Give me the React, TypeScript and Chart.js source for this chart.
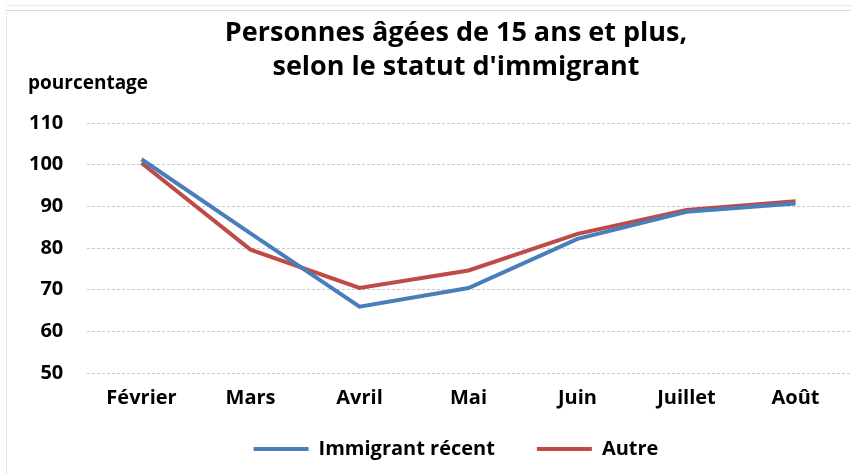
import React, { useEffect, useRef } from "react";
import { Chart, registerables } from "chart.js";

Chart.register(...registerables);

const categories = ["Février", "Mars", "Avril", "Mai", "Juin", "Juillet", "Août"];
const immigrantRecent = [101.3, 83.5, 65.9, 70.4, 82.2, 88.7, 90.7];
const autre = [100.4, 79.6, 70.4, 74.6, 83.4, 89.1, 91.2];
const yTicks = [50, 60, 70, 80, 90, 100, 110];
const titleLines = ["Personnes âgées de 15 ans et plus,", "selon le statut d'immigrant"];
const yUnit = "pourcentage";

const FONT = "'Open Sans', Lato, sans-serif";

export default function App() {
  const ref = useRef<HTMLCanvasElement | null>(null);

  useEffect(() => {
    const canvas = ref.current;
    if (!canvas) return;
    const chart = new Chart(canvas, {
      type: "line",
      data: {
        labels: categories,
        datasets: [
          {
            label: "Immigrant récent",
            data: immigrantRecent,
            borderColor: "#4A7EBB",
            backgroundColor: "#4A7EBB",
            borderWidth: 4,
            pointRadius: 0,
            tension: 0,
          },
          {
            label: "Autre",
            data: autre,
            borderColor: "#BE4B48",
            backgroundColor: "#BE4B48",
            borderWidth: 4,
            pointRadius: 0,
            tension: 0,
          },
        ],
      },
      options: {
        animation: false,
        responsive: false,
        maintainAspectRatio: false,
        layout: { padding: { left: 62, right: 1, top: 10, bottom: 4 } },
        plugins: {
          tooltip: { enabled: false },
          title: {
            display: true,
            text: titleLines,
            color: "#000",
            font: { family: FONT, size: 27, weight: "bold", lineHeight: "34px" },
            padding: { top: 6, bottom: 39 },
          },
          legend: {
            position: "bottom",
            labels: {
              color: "#000",
              font: { family: FONT, size: 20, weight: "bold" },
              boxWidth: 55,
              boxHeight: 4,
              padding: 42,
              generateLabels: (c: any) =>
                c.data.datasets.map((ds: any, i: number) => ({
                  text: ds.label,
                  fillStyle: ds.borderColor,
                  strokeStyle: ds.borderColor,
                  lineWidth: 0,
                  hidden: false,
                  datasetIndex: i,
                  fontColor: "#000",
                })),
            },
          },
        },
        scales: {
          x: {
            offset: true,
            grid: { display: false, drawTicks: false },
            border: { display: false },
            ticks: {
              color: "#000",
              font: { family: FONT, size: 20, weight: "bold" },
              padding: -37,
              maxRotation: 0,
              mirror: true,
            },
            afterFit: (s: any) => {
              s.height = 24;
            },
          },
          y: {
            min: 50,
            max: 110,
            afterBuildTicks: (s: any) => {
              s.ticks = yTicks.map((v) => ({ value: v }));
            },
            afterFit: (s: any) => {
              s.width = 25;
            },
            grid: {
              color: "#C9C9C9",
              lineWidth: 1,
              drawTicks: false,
            },
            border: { display: false, dash: [3, 2] },
            ticks: {
              color: "#000",
              font: { family: FONT, size: 20, weight: "bold" },
              mirror: true,
              crossAlign: "far",
              padding: -58,
            },
          },
        },
      },
    });
    return () => chart.destroy();
  }, []);

  return (
    <div style={{ position: "fixed", left: 0, top: 0, width: 851, height: 473, background: "#fff", overflow: "hidden" }}>
      <div style={{ position: "absolute", left: 6, top: 5, right: 0, borderTop: "1px dotted #d6d6d6" }} />
      <div style={{ position: "absolute", left: 6, top: 10, right: 0, bottom: 0, borderTop: "1px solid #d9d9d9", borderLeft: "1px dotted #cfcfcf" }} />
      <canvas ref={ref} width={851} height={473} style={{ position: "absolute", left: 0, top: 0 }} />
      <div
        style={{
          position: "absolute",
          left: 28,
          top: 71,
          fontFamily: FONT,
          fontWeight: "bold",
          fontSize: 19,
          lineHeight: "23px",
          color: "#000",
        }}
      >
        {yUnit}
      </div>
    </div>
  );
}
